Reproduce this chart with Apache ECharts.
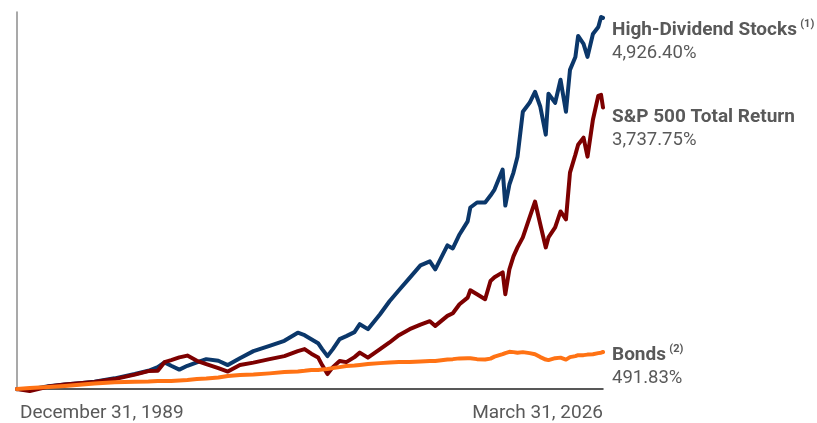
<!DOCTYPE html>
<html>
<head>
<meta charset="utf-8">
<script src="https://cdn.jsdelivr.net/npm/echarts@6/dist/echarts.min.js"></script>
<style>
  html, body { margin: 0; padding: 0; background: #fff; }
  #chart { width: 817px; height: 423px; }
</style>
</head>
<body>
<div id="chart"></div>
<script>
// month-end sample dates
const dates = [
  '1989-12-31', '1990-10', '1991-12', '1992-12', '1994-01', '1994-10', '1996-01', '1997-04',
  '1998-02', '1998-09', '1999-02', '1999-07', '2000-01', '2000-07', '2001-02', '2001-09',
  '2002-06', '2003-01', '2003-10', '2004-08', '2005-08', '2006-07', '2007-05', '2007-10',
  '2008-03', '2008-08', '2008-11', '2009-03', '2009-07', '2009-12', '2010-05', '2010-11',
  '2011-03', '2011-09', '2012-06', '2013-01', '2013-08', '2014-04', '2014-12', '2015-07',
  '2015-11', '2016-08', '2016-12', '2017-05', '2017-11', '2018-01', '2018-06', '2018-12',
  '2019-04', '2019-07', '2020-01', '2020-03', '2020-06', '2020-09', '2020-12', '2021-04',
  '2021-09', '2022-01', '2022-05', '2022-09', '2022-11', '2023-04', '2023-08', '2023-12',
  '2024-03', '2024-07', '2024-09', '2025-01', '2025-04', '2025-08', '2025-12', '2026-02',
  '2026-03-31'
];

// cumulative total return, %
const highDividend = [
  0, -7, 36, 60, 79, 97, 142, 199,
  242, 291, 354, 309, 258, 309, 354, 397,
  375, 318, 410, 503, 573, 640, 748, 715,
  662, 609, 530, 437, 530, 662, 702, 755,
  861, 795, 993, 1165, 1311, 1476, 1642, 1695,
  1589, 1907, 1867, 2052, 2225, 2410, 2476, 2476,
  2569, 2648, 2913, 2436, 2715, 2873, 3085, 3681,
  3800, 3946, 3747, 3377, 3920, 3800, 4105, 3681,
  4237, 4409, 4687, 4582, 4409, 4714, 4807, 4939,
  4926.40
];
const sp500 = [
  0, -26, 33, 60, 79, 93, 132, 192,
  238, 242, 357, 384, 420, 444, 375, 331,
  278, 232, 318, 351, 397, 437, 503, 530,
  470, 420, 318, 199, 291, 371, 357, 424,
  483, 417, 530, 618, 715, 795, 854, 900,
  838, 971, 1006, 1126, 1214, 1311, 1258, 1192,
  1434, 1483, 1549, 1258, 1589, 1761, 1880, 2013,
  2278, 2489, 2185, 1880, 2013, 2145, 2357, 2251,
  2873, 3112, 3244, 3337, 3085, 3575, 3893, 3906,
  3737.75
];
const bonds = [
  0, 13, 26, 40, 60, 75, 89, 97,
  99, 106, 106, 106, 113, 119, 132, 139,
  152, 172, 185, 192, 208, 225, 234, 242,
  252, 252, 258, 265, 278, 291, 305, 311,
  318, 331, 344, 351, 358, 358, 364, 371,
  371, 391, 397, 407, 410, 410, 397, 391,
  404, 430, 463, 477, 494, 490, 483, 490,
  477, 463, 424, 391, 384, 410, 417, 391,
  424, 437, 450, 450, 457, 463, 477, 483,
  491.83
];

const seriesNames = ['High-Dividend Stocks', 'S&P 500 Total Return', 'Bonds'];
const seriesNotes = ['(1)', '', '(2)'];
const seriesEnds = ['4,926.40%', '3,737.75%', '491.83%'];
const seriesColors = ['#0b376a', '#7d0000', '#ff7214'];
const labelOffsets = [[4, 24], [4, 21], [4, 15]];

const axisEnds = ['1989-12-31', '2026-03-31'];
const axisEndLabels = ['December 31, 1989', 'March 31, 2026'];

const toTime = d => new Date(d.length === 7 ? d + '-15' : d).getTime();
const xMin = toTime(axisEnds[0]);
const xMax = toTime(axisEnds[1]);

const chart = echarts.init(document.getElementById('chart'));

const FONT = 'Roboto, "Noto Sans", sans-serif';

function makeSeries(i, values) {
  const note = seriesNotes[i] ? ' {s|' + seriesNotes[i] + '}' : '';
  return {
    name: seriesNames[i],
    type: 'line',
    data: dates.map((d, k) => [toTime(d), values[k]]),
    showSymbol: false,
    symbol: 'none',
    lineStyle: { color: seriesColors[i], width: 4, join: 'round', cap: 'round' },
    itemStyle: { color: seriesColors[i] },
    z: 2 + i,
    endLabel: {
      show: true,
      distance: 5,
      offset: labelOffsets[i],
      align: 'left',
      formatter: '{b|' + seriesNames[i] + '}' + note + '\n{v|' + seriesEnds[i] + '}',
      rich: {
        b: { fontFamily: FONT, fontWeight: 'bold', fontSize: 19, color: '#595959', lineHeight: 23 },
        s: { fontFamily: FONT, fontWeight: 'bold', fontSize: 11, color: '#595959', verticalAlign: 'top', padding: [0, 0, 8, 0] },
        v: { fontFamily: FONT, fontSize: 18.5, color: '#595959', lineHeight: 23 }
      }
    }
  };
}

chart.setOption({
  animation: false,
  grid: { left: 17, right: 214, top: 12, bottom: 31, containLabel: false },
  xAxis: {
    type: 'value',
    min: xMin,
    max: xMax,
    splitLine: { show: false },
    axisLine: { show: true, lineStyle: { color: '#222', width: 1.5 } },
    axisTick: { show: false },
    axisLabel: {
      customValues: [xMin, xMax],
      showMinLabel: true,
      showMaxLabel: true,
      alignMinLabel: 'left',
      alignMaxLabel: 'right',
      margin: 13,
      padding: [0, 0, 0, 3],
      fontFamily: FONT,
      fontSize: 19,
      color: '#595959',
      formatter: (val) => (val <= xMin ? axisEndLabels[0] : axisEndLabels[1])
    }
  },
  yAxis: {
    type: 'value',
    min: -26,
    max: 5005,
    splitLine: { show: false },
    axisLine: { show: true, onZero: false, lineStyle: { color: '#8c8c8c', width: 1.5 } },
    axisTick: { show: false },
    axisLabel: { show: false }
  },
  series: [
    makeSeries(0, highDividend),
    makeSeries(1, sp500),
    makeSeries(2, bonds)
  ]
});
</script>
</body>
</html>
